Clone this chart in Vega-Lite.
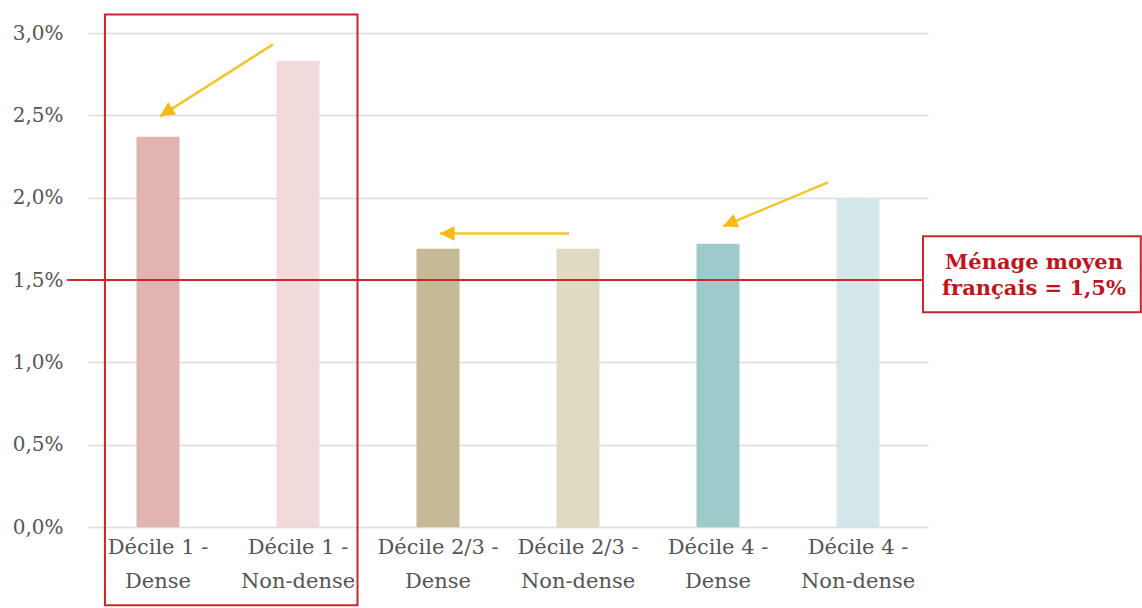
{
  "$schema": "https://vega.github.io/schema/vega-lite/v6.json",
  "autosize": "none",
  "width": 840,
  "height": 494,
  "padding": {"left": 88, "top": 33, "right": 214, "bottom": 81},
  "background": "white",
  "config": {
    "view": {"stroke": null},
    "font": "DejaVu Serif"
  },
  "datasets": {
    "bars": [
      {"categorie": "Décile 1 - Dense", "taux": 2.37},
      {"categorie": "Décile 1 - Non-dense", "taux": 2.83},
      {"categorie": "Décile 2/3 - Dense", "taux": 1.69},
      {"categorie": "Décile 2/3 - Non-dense", "taux": 1.69},
      {"categorie": "Décile 4 - Dense", "taux": 1.72},
      {"categorie": "Décile 4 - Non-dense", "taux": 2.0}
    ],
    "cadre": [
      {"x": 0.121, "x2": 1.925, "y": 3.113, "y2": -0.475}
    ],
    "moyenne": [
      {"x": -0.15, "x2": 5.964, "y": 1.5}
    ],
    "etiquette": [
      {"x": 5.964, "x2": 7.52, "y": 1.765, "y2": 1.304, "xt": 6.757, "yt": 1.601, "texte": "Ménage moyen\nfrançais = 1,5%"}
    ],
    "fleches": [
      {"x": 1.321, "y": 2.931, "x2": 0.514, "y2": 2.494, "heading": 237},
      {"x": 3.436, "y": 1.783, "x2": 2.514, "y2": 1.783, "heading": 270},
      {"x": 5.286, "y": 2.093, "x2": 4.536, "y2": 1.826, "heading": 247}
    ]
  },
  "layer": [
    {
      "data": {"name": "bars"},
      "mark": {"type": "bar", "size": 43},
      "encoding": {
        "x": {
          "field": "categorie",
          "type": "nominal",
          "sort": null,
          "scale": {"paddingInner": 0, "paddingOuter": 0},
          "axis": {
            "title": null,
            "domain": false,
            "ticks": false,
            "labelAngle": 0,
            "labelFont": "DejaVu Serif",
            "labelFontSize": 21,
            "labelColor": "#555555",
            "labelPadding": 9,
            "labelBaseline": "top",
            "labelLineHeight": 34,
            "labelExpr": "[slice(datum.label, 0, indexof(datum.label, ' - ') + 2), slice(datum.label, indexof(datum.label, ' - ') + 3)]"
          }
        },
        "y": {
          "field": "taux",
          "type": "quantitative",
          "title": null,
          "scale": {"domain": [0, 3], "nice": false, "zero": true},
          "axis": {
            "title": null,
            "values": [0, 0.5, 1, 1.5, 2, 2.5, 3],
            "domain": false,
            "ticks": false,
            "grid": true,
            "gridColor": "#dcdcdc",
            "gridWidth": 1.5,
            "labelFont": "DejaVu Serif",
            "labelFontSize": 20,
            "labelColor": "#555555",
            "labelPadding": 25,
            "labelExpr": "replace(format(datum.value, '.1f'), '.', ',') + '%'"
          }
        },
        "color": {
          "field": "categorie",
          "type": "nominal",
          "sort": null,
          "legend": null,
          "scale": {
            "domain": ["Décile 1 - Dense", "Décile 1 - Non-dense", "Décile 2/3 - Dense", "Décile 2/3 - Non-dense", "Décile 4 - Dense", "Décile 4 - Non-dense"],
            "range": ["#e2b4b1", "#f2d9da", "#c5ba95", "#e1dac3", "#9dcbcb", "#d5e6ea"]
          }
        }
      }
    },
    {
      "layer": [
        {
          "data": {"name": "moyenne"},
          "mark": {"type": "rule", "color": "#d0262b", "strokeWidth": 2},
          "encoding": {
            "x": {"field": "x", "type": "quantitative", "scale": {"domain": [0, 6], "nice": false, "zero": false}, "axis": null},
            "x2": {"field": "x2"},
            "y": {"field": "y", "type": "quantitative", "title": null}
          }
        },
        {
          "data": {"name": "cadre"},
          "mark": {"type": "rect", "fill": null, "fillOpacity": 0, "stroke": "#c8262b", "strokeWidth": 2},
          "encoding": {
            "x": {"field": "x", "type": "quantitative", "axis": null},
            "x2": {"field": "x2"},
            "y": {"field": "y", "type": "quantitative", "title": null},
            "y2": {"field": "y2"}
          }
        },
        {
          "data": {"name": "etiquette"},
          "mark": {"type": "rect", "fill": "white", "stroke": "#c8262b", "strokeWidth": 2},
          "encoding": {
            "x": {"field": "x", "type": "quantitative", "axis": null},
            "x2": {"field": "x2"},
            "y": {"field": "y", "type": "quantitative", "title": null},
            "y2": {"field": "y2"}
          }
        },
        {
          "data": {"name": "etiquette"},
          "mark": {"type": "text", "font": "DejaVu Serif", "fontWeight": "bold", "fontSize": 21, "color": "#c0141c", "align": "center", "baseline": "middle", "lineBreak": "\n", "lineHeight": 26},
          "encoding": {
            "x": {"field": "xt", "type": "quantitative", "axis": null},
            "y": {"field": "yt", "type": "quantitative", "title": null},
            "text": {"field": "texte"}
          }
        },
        {
          "data": {"name": "fleches"},
          "mark": {"type": "rule", "color": "#f4c52a", "strokeWidth": 2.5},
          "encoding": {
            "x": {"field": "x", "type": "quantitative", "axis": null},
            "x2": {"field": "x2"},
            "y": {"field": "y", "type": "quantitative", "title": null},
            "y2": {"field": "y2"}
          }
        },
        {
          "data": {"name": "fleches"},
          "mark": {"type": "point", "shape": "M0,0 L-0.5,1 L0.5,1 Z", "filled": true, "size": 850, "color": "#f5bb12", "opacity": 1},
          "encoding": {
            "x": {"field": "x2", "type": "quantitative", "axis": null},
            "y": {"field": "y2", "type": "quantitative", "title": null},
            "angle": {"field": "heading", "type": "quantitative", "scale": null}
          }
        }
      ]
    }
  ],
  "resolve": {"scale": {"x": "independent", "color": "independent"}}
}
